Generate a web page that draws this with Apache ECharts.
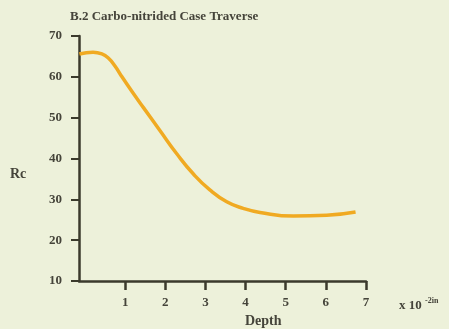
<!DOCTYPE html>
<html><head><meta charset="utf-8">
<script src="https://cdn.jsdelivr.net/npm/echarts@6/dist/echarts.min.js"></script>
<style>html,body{margin:0;padding:0;background:#edf1da}#c{width:449px;height:329px}</style>
</head><body><div id="c"></div>
<script>
const depth = [-0.14, 0.2, 0.42, 0.58, 0.75, 0.92, 1.17, 1.46, 1.87, 2.29, 2.7, 3.11, 3.53, 3.94, 4.36, 5.19, 6.02, 6.74];
const rc = [65.6, 66.0, 65.6, 64.6, 62.6, 60.0, 56.4, 52.4, 46.8, 41.1, 36.2, 32.3, 29.4, 27.8, 26.8, 25.9, 26.1, 26.9];
const xTicks = [1, 2, 3, 4, 5, 6, 7];
const yTicks = [10, 20, 30, 40, 50, 60, 70];
const title = 'B.2 Carbo-nitrided Case Traverse';
const yName = 'Rc';
const xName = 'Depth';

const font = '"Liberation Serif", "DejaVu Serif", serif';
const ink = '#3b3a2c';
const txt = '#45443a';
const chart = echarts.init(document.getElementById('c'));
chart.setOption({
  backgroundColor: '#edf1da',
  animation: false,
  grid: {left: 79, top: 36, right: 83, bottom: 48},
  xAxis: {
    type: 'value', min: -0.15, max: 7,
    axisLine: {show: true, lineStyle: {color: ink, width: 2.5}},
    axisTick: {show: true, customValues: xTicks, length: 9, lineStyle: {color: ink, width: 2.5}},
    axisLabel: {customValues: xTicks, color: txt, fontFamily: font, fontWeight: 'bold', fontSize: 13, margin: 15},
    splitLine: {show: false}
  },
  yAxis: {
    type: 'value', min: 10, max: 70, interval: 10,
    axisLine: {show: true, onZero: false, lineStyle: {color: ink, width: 2.5}},
    axisTick: {show: true, length: 8, lineStyle: {color: ink, width: 2}},
    axisLabel: {color: txt, fontFamily: font, fontWeight: 'bold', fontSize: 13, margin: 17, customValues: yTicks},
    splitLine: {show: false}
  },
  series: [{
    type: 'line', smooth: true, symbol: 'none',
    data: depth.map((d, i) => [d, rc[i]]),
    lineStyle: {color: '#f0aa22', width: 3.5}
  }],
  graphic: [
    {type: 'text', left: 70, top: 10, style: {text: title, fill: txt, font: 'bold 13px ' + font}},
    {type: 'text', left: 10, top: 167, style: {text: yName, fill: txt, font: 'bold 14px ' + font}},
    {type: 'text', left: 245, top: 314, style: {text: xName, fill: txt, font: 'bold 14px ' + font}},
    {type: 'text', left: 399, top: 297, style: {
      text: 'x 10 {s|-2in}', fill: txt, font: 'bold 13px ' + font,
      rich: {s: {fontSize: 8, fontFamily: font, fontWeight: 'bold', fill: txt, verticalAlign: 'top', padding: [0,0,9,0]}}
    }}
  ]
});
</script></body></html>
